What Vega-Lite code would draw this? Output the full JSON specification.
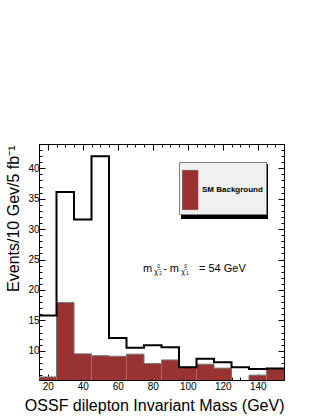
{
  "$schema": "https://vega.github.io/schema/vega-lite/v6.json",
  "width": 245,
  "height": 236,
  "autosize": {"type": "none"},
  "padding": {"left": 39, "top": 144, "right": 39, "bottom": 38},
  "background": "white",
  "config": {"view": {"stroke": "#000", "strokeWidth": 1}, "font": "Liberation Sans"},
  "data": {"values": [
    {"lo": 15, "hi": 25, "bg": 5.7, "sig": 15.8},
    {"lo": 25, "hi": 35, "bg": 17.95, "sig": 36.1},
    {"lo": 35, "hi": 45, "bg": 9.5, "sig": 31.6},
    {"lo": 45, "hi": 55, "bg": 9.2, "sig": 42.0},
    {"lo": 55, "hi": 65, "bg": 9.1, "sig": 12.1},
    {"lo": 65, "hi": 75, "bg": 9.45, "sig": 10.5},
    {"lo": 75, "hi": 85, "bg": 7.9, "sig": 10.9},
    {"lo": 85, "hi": 95, "bg": 8.5, "sig": 10.6},
    {"lo": 95, "hi": 105, "bg": 7.3, "sig": 7.3},
    {"lo": 105, "hi": 115, "bg": 7.8, "sig": 8.7},
    {"lo": 115, "hi": 125, "bg": 7.15, "sig": 8.1},
    {"lo": 125, "hi": 135, "bg": 4.0, "sig": 7.3},
    {"lo": 135, "hi": 145, "bg": 6.0, "sig": 7.0},
    {"lo": 145, "hi": 155, "bg": 7.1, "sig": 7.1}
  ]},
  "resolve": {"axis": {"x": "independent", "y": "independent"}},
  "layer": [
    {
      "mark": {"type": "bar", "clip": true, "strokeWidth": 0},
      "encoding": {
        "x": {"field": "lo", "type": "quantitative",
          "scale": {"domain": [15, 155], "nice": false, "zero": false},
          "axis": {"orient": "bottom", "values": [15,20,25,30,35,40,45,50,55,60,65,70,75,80,85,90,95,100,105,110,115,120,125,130,135,140,145,150,155],
            "tickSize": {"condition": {"test": "datum.value % 20 === 0", "value": -6}, "value": -3},
            "tickColor": "#000", "tickWidth": 1,
            "labelExpr": "datum.value % 20 === 0 ? datum.label : ''",
            "labelOverlap": false, "labelFlush": false, "labelBound": false,
            "labelFont": "Liberation Sans", "labelFontSize": 10, "labelColor": "#000", "labelPadding": 7,
            "domain": false, "grid": false,
            "title": "OSSF dilepton Invariant Mass (GeV)", "titleFont": "Liberation Sans", "titleFontSize": 16,
            "titleFontWeight": "normal", "titleColor": "#000", "titleX": 245, "titleY": 17,
            "titleAlign": "right", "titleBaseline": "top", "titleAnchor": "end"}},
        "x2": {"field": "hi"},
        "y": {"field": "bg", "type": "quantitative",
          "scale": {"domain": [5.2, 44.0], "nice": false, "zero": false},
          "axis": {"orient": "left", "values": [6,7,8,9,10,11,12,13,14,15,16,17,18,19,20,21,22,23,24,25,26,27,28,29,30,31,32,33,34,35,36,37,38,39,40,41,42,43,44],
            "tickSize": {"condition": {"test": "datum.value % 5 === 0", "value": -6}, "value": -3},
            "tickColor": "#000", "tickWidth": 1,
            "labelExpr": "datum.value % 5 === 0 ? datum.label : ''",
            "labelOverlap": false, "labelFlush": false, "labelBound": false,
            "labelFont": "Liberation Sans", "labelFontSize": 10, "labelColor": "#000", "labelPadding": 6,
            "domain": false, "grid": false,
            "title": "Events/10 Gev/5 fb⁻¹", "titleFont": "Liberation Sans", "titleFontSize": 16,
            "titleFontWeight": "normal", "titleColor": "#000", "titleX": -21, "titleY": 1,
            "titleAngle": 270, "titleAlign": "right", "titleBaseline": "alphabetic", "titleAnchor": "end"}},
        "y2": {"datum": 0},
        "fill": {"datum": "SM Background", "type": "nominal", "scale": {"range": ["#993333"]},
          "legend": {"orient": "none", "legendX": 140, "legendY": 18, "title": null, "zindex": 2,
            "fillColor": "#f0f0f0", "strokeColor": "#808080", "padding": 3, "cornerRadius": 0,
            "symbolType": "M-1,-0.8H-0.37V0.8H-1Z", "symbolSize": 2401, "symbolStrokeWidth": 0.5, "symbolStrokeColor": "#6a2020",
            "labelFont": "Liberation Sans", "labelFontWeight": "bold", "labelFontSize": 8, "labelColor": "#000",
            "labelOffset": -30}}
      }
    },
    {
      "transform": [{"fold": ["lo", "hi"], "as": ["edge", "xpos"]}],
      "mark": {"type": "line", "clip": true, "stroke": "#777777", "strokeWidth": 1, "interpolate": "linear"},
      "encoding": {
        "x": {"field": "xpos", "type": "quantitative", "axis": null},
        "y": {"field": "bg", "type": "quantitative", "axis": null},
        "order": [{"field": "xpos", "type": "quantitative"}, {"field": "edge", "type": "nominal", "sort": "ascending"}]
      }
    },
    {
      "transform": [{"fold": ["lo", "hi"], "as": ["edge", "xpos"]}],
      "mark": {"type": "line", "clip": true, "stroke": "#000000", "strokeWidth": 2, "interpolate": "linear", "strokeJoin": "miter"},
      "encoding": {
        "x": {"field": "xpos", "type": "quantitative",
          "axis": {"orient": "top", "values": [15,20,25,30,35,40,45,50,55,60,65,70,75,80,85,90,95,100,105,110,115,120,125,130,135,140,145,150,155],
            "tickSize": {"condition": {"test": "datum.value % 20 === 0", "value": -6}, "value": -3},
            "tickColor": "#000", "labels": false, "title": null, "domain": false, "grid": false}},
        "y": {"field": "sig", "type": "quantitative",
          "axis": {"orient": "right", "values": [6,7,8,9,10,11,12,13,14,15,16,17,18,19,20,21,22,23,24,25,26,27,28,29,30,31,32,33,34,35,36,37,38,39,40,41,42,43,44],
            "tickSize": {"condition": {"test": "datum.value % 5 === 0", "value": -6}, "value": -3},
            "tickColor": "#000", "labels": false, "title": null, "domain": false, "grid": false}},
        "order": [{"field": "xpos", "type": "quantitative"}, {"field": "edge", "type": "nominal", "sort": "ascending"}]
      }
    },
    {"data": {"values": [{}]}, "mark": {"type": "text", "text": "m", "fontSize": 11, "align": "left", "baseline": "alphabetic", "font": "Liberation Sans"},
      "encoding": {"x": {"datum": 74.4, "type": "quantitative", "axis": null}, "y": {"datum": 22.9, "type": "quantitative", "axis": null},
        "color": {"datum": "", "type": "nominal", "scale": {"range": ["#000000"]},
          "legend": {"orient": "none", "legendX": 142, "legendY": 20, "title": null, "zindex": 1, "padding": 0,
            "symbolType": "M-1,-1H0.74V0.1H-1Z", "symbolSize": 10000, "symbolFillColor": "#000", "symbolStrokeWidth": 0,
            "labelFontSize": 1, "labelOffset": 0}}}},
    {"data": {"values": [{}]}, "mark": {"type": "text", "text": "χ̃", "fontSize": 7, "dx": 11.3, "dy": 1.5, "align": "left", "baseline": "alphabetic", "font": "Liberation Sans", "color": "#000"},
      "encoding": {"x": {"datum": 74.4, "type": "quantitative", "axis": null}, "y": {"datum": 22.9, "type": "quantitative", "axis": null}}},
    {"data": {"values": [{}]}, "mark": {"type": "text", "text": "0", "fontSize": 5, "dx": 14.2, "dy": -4.6, "align": "left", "baseline": "alphabetic", "font": "Liberation Sans", "color": "#000"},
      "encoding": {"x": {"datum": 74.4, "type": "quantitative", "axis": null}, "y": {"datum": 22.9, "type": "quantitative", "axis": null}}},
    {"data": {"values": [{}]}, "mark": {"type": "text", "text": "2", "fontSize": 4.5, "dx": 16.4, "dy": 2.5, "align": "left", "baseline": "alphabetic", "font": "Liberation Sans", "color": "#000"},
      "encoding": {"x": {"datum": 74.4, "type": "quantitative", "axis": null}, "y": {"datum": 22.9, "type": "quantitative", "axis": null}}},
    {"data": {"values": [{}]}, "mark": {"type": "text", "text": "-", "fontSize": 11, "dx": 20.5, "align": "left", "baseline": "alphabetic", "font": "Liberation Sans", "color": "#000"},
      "encoding": {"x": {"datum": 74.4, "type": "quantitative", "axis": null}, "y": {"datum": 22.9, "type": "quantitative", "axis": null}}},
    {"data": {"values": [{}]}, "mark": {"type": "text", "text": "m", "fontSize": 11, "dx": 26.7, "align": "left", "baseline": "alphabetic", "font": "Liberation Sans", "color": "#000"},
      "encoding": {"x": {"datum": 74.4, "type": "quantitative", "axis": null}, "y": {"datum": 22.9, "type": "quantitative", "axis": null}}},
    {"data": {"values": [{}]}, "mark": {"type": "text", "text": "χ̃", "fontSize": 7, "dx": 38.3, "dy": 1.5, "align": "left", "baseline": "alphabetic", "font": "Liberation Sans", "color": "#000"},
      "encoding": {"x": {"datum": 74.4, "type": "quantitative", "axis": null}, "y": {"datum": 22.9, "type": "quantitative", "axis": null}}},
    {"data": {"values": [{}]}, "mark": {"type": "text", "text": "0", "fontSize": 5, "dx": 41.2, "dy": -4.6, "align": "left", "baseline": "alphabetic", "font": "Liberation Sans", "color": "#000"},
      "encoding": {"x": {"datum": 74.4, "type": "quantitative", "axis": null}, "y": {"datum": 22.9, "type": "quantitative", "axis": null}}},
    {"data": {"values": [{}]}, "mark": {"type": "text", "text": "1", "fontSize": 4.5, "dx": 43.4, "dy": 2.5, "align": "left", "baseline": "alphabetic", "font": "Liberation Sans", "color": "#000"},
      "encoding": {"x": {"datum": 74.4, "type": "quantitative", "axis": null}, "y": {"datum": 22.9, "type": "quantitative", "axis": null}}},
    {"data": {"values": [{}]}, "mark": {"type": "text", "text": "= 54 GeV", "fontSize": 11, "dx": 56, "align": "left", "baseline": "alphabetic", "font": "Liberation Sans", "color": "#000"},
      "encoding": {"x": {"datum": 74.4, "type": "quantitative", "axis": null}, "y": {"datum": 22.9, "type": "quantitative", "axis": null}}}
  ]
}
